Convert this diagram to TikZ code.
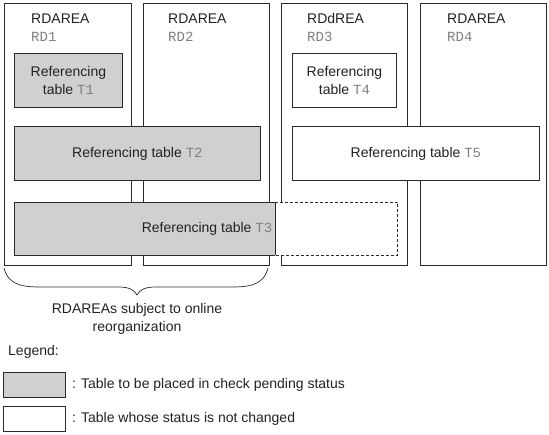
\documentclass[tikz,border=0pt]{standalone}
\usepackage{fontspec}
\setmainfont{Liberation Sans}
\newfontfamily\monof{Liberation Mono}
\definecolor{linec}{HTML}{2A2A2A}
\definecolor{grayfill}{HTML}{D0D0D0}
\definecolor{codec}{HTML}{808080}
\definecolor{textc}{HTML}{222222}
\begin{document}
\begin{tikzpicture}[x=1pt,y=-1pt,
  txt/.style={font=\fontsize{14}{18}\selectfont, text=textc, inner sep=0pt},
  area/.style={draw=linec, line width=0.8pt, rectangle, anchor=north west, inner sep=0pt, minimum height=262pt},
  tbl/.style={draw=linec, line width=0.8pt, rectangle, anchor=north west, inner sep=0pt, fill=white},
  chk/.style={tbl, fill=grayfill},
  code/.style={font=\fontsize{14}{18}\selectfont\monof, text=codec, inner sep=0pt}
]
\useasboundingbox (0,0) rectangle (549,435);
% RDAREA boxes
\node[area, minimum width=127pt] (rd1) at (4,3) {};
\node[area, minimum width=126pt] (rd2) at (143,3) {};
\node[area, minimum width=126pt] (rd3) at (281,3) {};
\node[area, minimum width=126pt] (rd4) at (420,3) {};
% labels
\node[txt, anchor=west] (n1) at (31,19) {RDAREA};
\node[code, anchor=west] (c1) at (31,37) {RD1};
\node[txt, anchor=west] (n2) at (168,19) {RDAREA};
\node[code, anchor=west] (c2) at (168,37) {RD2};
\node[txt, anchor=west] (n3) at (307,19) {RDdREA};
\node[code, anchor=west] (c3) at (307,37) {RD3};
\node[txt, anchor=west] (n4) at (447,19) {RDAREA};
\node[code, anchor=west] (c4) at (447,37) {RD4};
% tables
\node[chk, minimum width=108pt, minimum height=54pt] (t1) at (14,53) {};
\node[txt, align=center] (t1l) at (t1.center) {Referencing\\table {\monof\color{codec}T1}};
\node[tbl, minimum width=104pt, minimum height=54pt] (t4) at (292,53) {};
\node[txt, align=center] (t4l) at (t4.center) {Referencing\\table {\monof\color{codec}T4}};
\node[chk, minimum width=246pt, minimum height=54pt] (t2) at (14,126) {};
\node[txt] (t2l) at (t2.center) {Referencing table {\monof\color{codec}T2}};
\node[tbl, minimum width=247pt, minimum height=54pt] (t5) at (292,126) {};
\node[txt] (t5l) at (t5.center) {Referencing table {\monof\color{codec}T5}};
% T3
\node[rectangle, anchor=north west, inner sep=0pt, fill=grayfill, minimum width=261pt, minimum height=53pt] (t3) at (14,202) {};
\node[tbl, densely dashed, line width=0.6pt, minimum width=122pt, minimum height=53pt] (t3b) at (t3.north east) {};
\draw[linec, line width=0.8pt] (t3.north east) -- (t3.north west) -- (t3.south west) -- (t3.south east);
\draw[linec, line width=0.6pt, densely dashed] (t3.north east) -- (t3.south east);
\node[txt, anchor=east] (t3l) at ([xshift=-3pt]t3.east) {Referencing table {\monof\color{codec}T3}};
% brace
\draw[linec, line width=0.7pt] (4,268) .. controls (8,283) and (18,287) .. (40,287) -- (118,287)
  .. controls (130,287) and (134,290) .. (137,295)
  .. controls (140,290) and (144,287) .. (156,287) -- (232,287)
  .. controls (254,287) and (264,283) .. (268,268);
\node[txt, align=center] (br) at (137,319) {RDAREAs subject to online\\reorganization};
% legend
\node[txt, anchor=west] (leg) at (8,352) {Legend:};
\node[chk, minimum width=62pt, minimum height=25pt] (lg1) at (3,372) {};
\node[txt, anchor=west] (lg1t) at ([xshift=6pt]lg1.east) {: Table to be placed in check pending status};
\node[tbl, minimum width=62pt, minimum height=25pt] (lg2) at (3,406) {};
\node[txt, anchor=west] (lg2t) at ([xshift=6pt]lg2.east) {: Table whose status is not changed};
\end{tikzpicture}
\end{document}
